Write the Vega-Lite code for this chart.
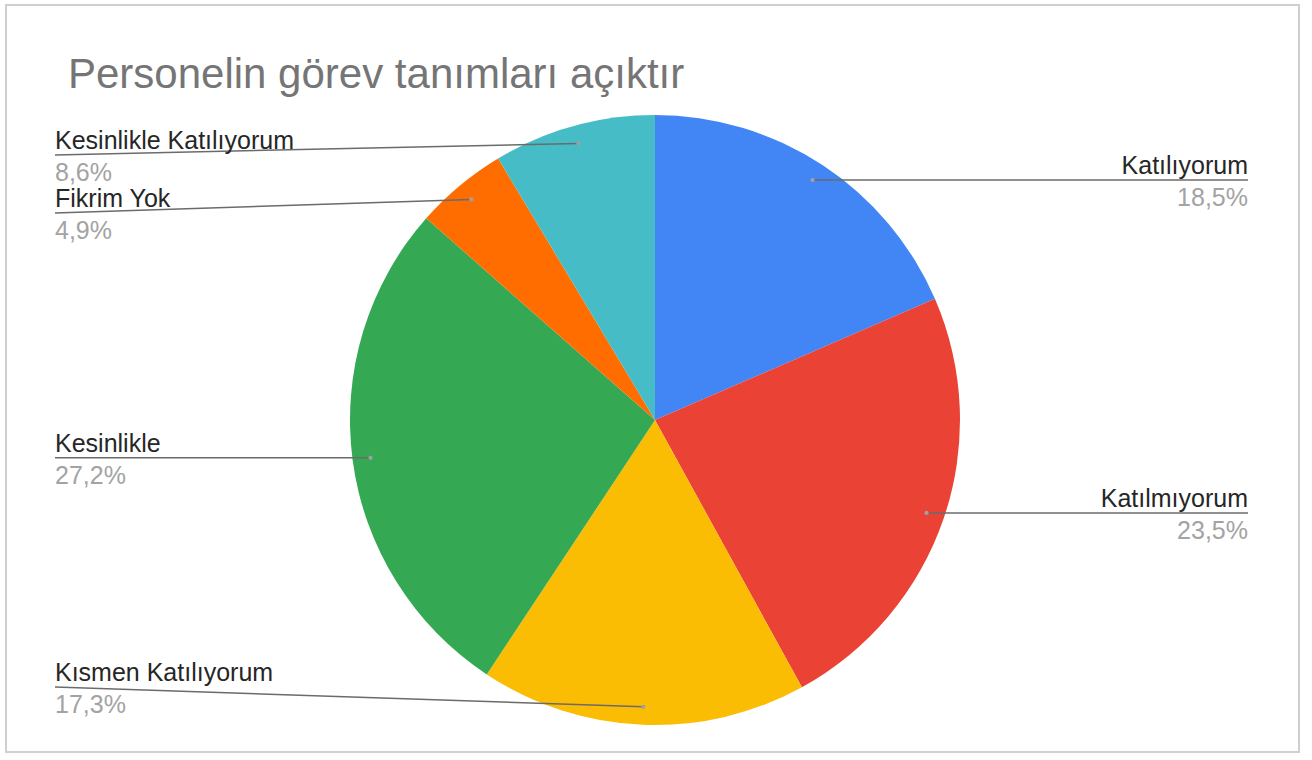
{
  "$schema": "https://vega.github.io/schema/vega-lite/v6.json",
  "width": 1293,
  "height": 747,
  "autosize": {"type": "none"},
  "padding": {"left": 6, "top": 5, "right": 13, "bottom": 8},
  "background": "#ffffff",
  "title": {
    "text": "Personelin görev tanımları açıktır",
    "anchor": "start",
    "frame": "group",
    "font": "Liberation Sans",
    "fontSize": 42,
    "fontWeight": "normal",
    "color": "#757575",
    "baseline": "alphabetic",
    "offset": -125,
    "dx": 62
  },
  "config": {
    "view": {"stroke": "#cfcfcf", "strokeWidth": 2},
    "locale": {"number": {"decimal": ",", "thousands": ".", "grouping": [3], "currency": ["", " ₺"]}}
  },
  "data": {
    "values": [
      {"cevap": "Katılıyorum", "oran": 0.185, "sira": 1},
      {"cevap": "Katılmıyorum", "oran": 0.235, "sira": 2},
      {"cevap": "Kısmen Katılıyorum", "oran": 0.173, "sira": 3},
      {"cevap": "Kesinlikle", "oran": 0.272, "sira": 4},
      {"cevap": "Fikrim Yok", "oran": 0.049, "sira": 5},
      {"cevap": "Kesinlikle Katılıyorum", "oran": 0.086, "sira": 6}
    ]
  },
  "transform": [
    {"window": [{"op": "sum", "field": "oran", "as": "kum"}], "sort": [{"field": "sira"}], "frame": [null, 0]},
    {"calculate": "2 * PI * (datum.kum - datum.oran / 2)", "as": "aci"},
    {"calculate": "287 * sin(datum.aci)", "as": "nx"},
    {"calculate": "287 * cos(datum.aci)", "as": "ny"},
    {"calculate": "datum.nx > 0 ? 'sag' : 'sol'", "as": "taraf"},
    {"calculate": "datum.taraf == 'sag' ? 593 : -600", "as": "lx"},
    {"calculate": "clamp(datum.ny, -267, 265)", "as": "cy"},
    {"window": [{"op": "lead", "field": "cy", "as": "ustcy"}], "groupby": ["taraf"], "sort": [{"field": "sira"}]},
    {"calculate": "datum.taraf == 'sol' && isValid(datum.ustcy) ? min(datum.cy, datum.ustcy - 58) : datum.cy", "as": "ly"}
  ],
  "layer": [
    {
      "mark": {"type": "arc", "outerRadius": 305},
      "encoding": {
        "theta": {"field": "oran", "type": "quantitative", "stack": true},
        "order": {"field": "sira", "type": "quantitative"},
        "color": {
          "field": "cevap",
          "type": "nominal",
          "scale": {
            "domain": ["Katılıyorum", "Katılmıyorum", "Kısmen Katılıyorum", "Kesinlikle", "Fikrim Yok", "Kesinlikle Katılıyorum"],
            "range": ["#4285F4", "#EA4335", "#FBBC04", "#34A853", "#FF6D01", "#46BDC6"]
          },
          "legend": null
        },
        "x": {"datum": 0, "type": "quantitative", "scale": {"domain": [-649, 644], "nice": false, "zero": false}, "axis": null},
        "y": {"datum": 0, "type": "quantitative", "scale": {"domain": [-332, 415], "nice": false, "zero": false}, "axis": null}
      }
    },
    {
      "mark": {"type": "rule", "color": "#6b6b6b", "strokeWidth": 1.5},
      "encoding": {
        "x": {"field": "lx", "type": "quantitative", "scale": {"domain": [-649, 644], "nice": false, "zero": false}, "axis": null},
        "y": {"field": "ly", "type": "quantitative", "scale": {"domain": [-332, 415], "nice": false, "zero": false}, "axis": null},
        "x2": {"field": "nx"},
        "y2": {"field": "ny"}
      }
    },
    {
      "mark": {"type": "point", "filled": true, "size": 18, "color": "#a0a0a0", "opacity": 1},
      "encoding": {
        "x": {"field": "nx", "type": "quantitative", "scale": {"domain": [-649, 644], "nice": false, "zero": false}, "axis": null},
        "y": {"field": "ny", "type": "quantitative", "scale": {"domain": [-332, 415], "nice": false, "zero": false}, "axis": null}
      }
    },
    {
      "transform": [{"filter": "datum.taraf == 'sag'"}],
      "mark": {"type": "text", "align": "right", "baseline": "alphabetic", "dy": -6, "font": "Liberation Sans", "fontSize": 25, "color": "#262626"},
      "encoding": {
        "x": {"field": "lx", "type": "quantitative", "scale": {"domain": [-649, 644], "nice": false, "zero": false}, "axis": null},
        "y": {"field": "ly", "type": "quantitative", "scale": {"domain": [-332, 415], "nice": false, "zero": false}, "axis": null},
        "text": {"field": "cevap"}
      }
    },
    {
      "transform": [{"filter": "datum.taraf == 'sag'"}],
      "mark": {"type": "text", "align": "right", "baseline": "top", "dy": 6, "font": "Liberation Sans", "fontSize": 25, "color": "#a3a3a3"},
      "encoding": {
        "x": {"field": "lx", "type": "quantitative", "scale": {"domain": [-649, 644], "nice": false, "zero": false}, "axis": null},
        "y": {"field": "ly", "type": "quantitative", "scale": {"domain": [-332, 415], "nice": false, "zero": false}, "axis": null},
        "text": {"field": "oran", "type": "quantitative", "format": ".1%"}
      }
    },
    {
      "transform": [{"filter": "datum.taraf == 'sol'"}],
      "mark": {"type": "text", "align": "left", "baseline": "alphabetic", "dy": -6, "font": "Liberation Sans", "fontSize": 25, "color": "#262626"},
      "encoding": {
        "x": {"field": "lx", "type": "quantitative", "scale": {"domain": [-649, 644], "nice": false, "zero": false}, "axis": null},
        "y": {"field": "ly", "type": "quantitative", "scale": {"domain": [-332, 415], "nice": false, "zero": false}, "axis": null},
        "text": {"field": "cevap"}
      }
    },
    {
      "transform": [{"filter": "datum.taraf == 'sol'"}],
      "mark": {"type": "text", "align": "left", "baseline": "top", "dy": 6, "font": "Liberation Sans", "fontSize": 25, "color": "#a3a3a3"},
      "encoding": {
        "x": {"field": "lx", "type": "quantitative", "scale": {"domain": [-649, 644], "nice": false, "zero": false}, "axis": null},
        "y": {"field": "ly", "type": "quantitative", "scale": {"domain": [-332, 415], "nice": false, "zero": false}, "axis": null},
        "text": {"field": "oran", "type": "quantitative", "format": ".1%"}
      }
    }
  ]
}
